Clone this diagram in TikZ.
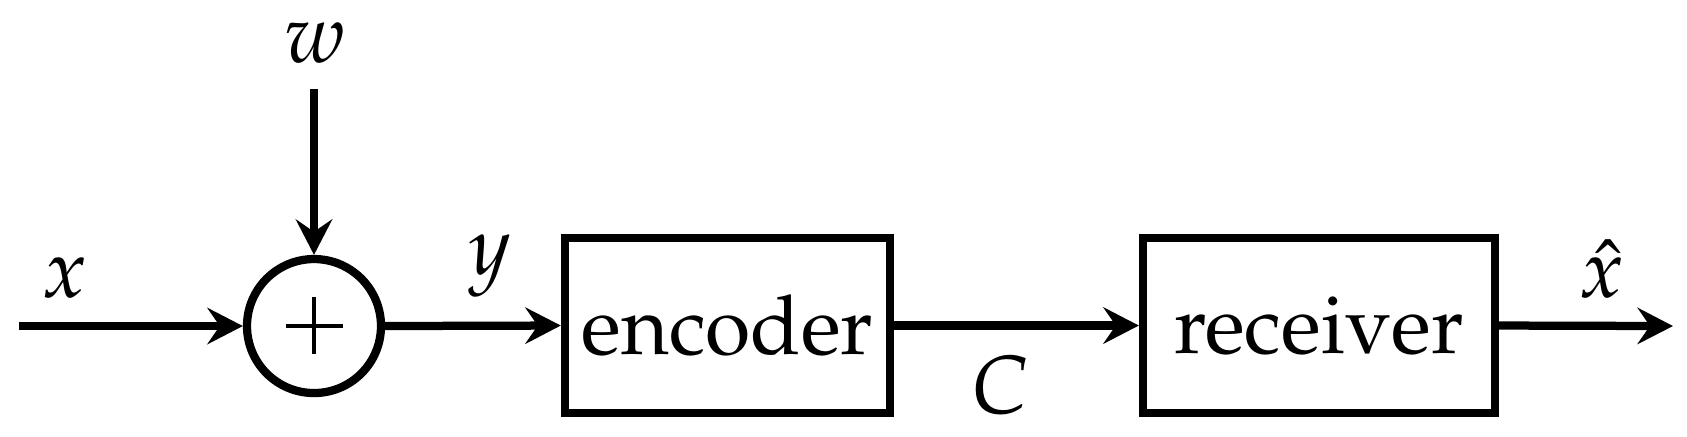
\documentclass[tikz,border=0pt]{standalone}
\usepackage[T1]{fontenc}
\usepackage{mathpazo}
\usetikzlibrary{arrows.meta}
\tikzset{
  conn/.style={line width=1pt, -{Stealth[length=4.3pt, width=4.4pt, inset=1.5pt]}},
  blockbox/.style={draw, line width=1pt, inner sep=0pt, minimum height=21.2pt, font=\fontsize{10pt}{12pt}\selectfont},
  sumnode/.style={draw, circle, line width=1pt, inner sep=0pt, minimum size=16.24pt},
  lab/.style={anchor=base, inner sep=0pt, font=\fontsize{10pt}{12pt}\selectfont}
}
\begin{document}
\begin{tikzpicture}[x=0.1212pt, y=-0.1212pt]
\useasboundingbox (0,0) rectangle (1687,436);
\node[sumnode] (sum) at (314,326) {};
\draw[line width=0.38pt] (286,326) -- (343,326) (314,297) -- (314,354);
\node[blockbox, minimum width=39.4pt] (enc) at (727.5,325.5) {encoder};
\node[blockbox, minimum width=42.66pt] (rec) at (1319,325.5) {receiver};
\coordinate (xin) at (19,326);
\coordinate (win) at (314,89);
\coordinate (xout) at (1673,326);
\draw[conn] (xin) -- (sum.west);
\draw[conn] (win) -- (sum.north);
\draw[conn] (sum.east) -- (enc.west);
\draw[conn] (enc.east) -- (rec.west);
\draw[conn] (rec.east) -- (xout);
\node[lab] (lw) at (315,62) {$w$};
\node[lab] (lx) at (65,297) {$x$};
\node[lab] (ly) at (490,274) {$y$};
\node[lab] (lC) at (1001,413) {$C$};
\node[lab] (lxh) at (1602,297) {$\hat{x}$};
\end{tikzpicture}
\end{document}
